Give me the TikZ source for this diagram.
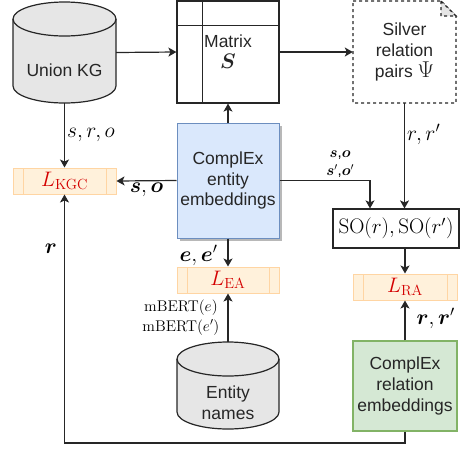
\RequirePackage{fix-cm}
\documentclass[tikz,border=0pt]{standalone}
\usepackage{amsmath}
\usepackage[no-math]{fontspec}
\setmainfont{Liberation Sans}
\usetikzlibrary{arrows.meta, shadows}

\definecolor{linec}{HTML}{262626}
\definecolor{cylfill}{HTML}{E6E6E6}
\definecolor{entfill}{HTML}{DAE8FC}
\definecolor{entline}{HTML}{6C8EBF}
\definecolor{relfill}{HTML}{D5E8D4}
\definecolor{relline}{HTML}{82B366}
\definecolor{lossfill}{HTML}{FFF1DB}
\definecolor{lossline}{HTML}{FFD5A3}
\definecolor{lossred}{HTML}{D40000}

\tikzset{
  tx/.style={font=\fontsize{17.5}{20.8}\selectfont, align=center, text=linec},
  lbl/.style={font=\fontsize{21.5}{24}\selectfont, inner sep=2pt},
  sml/.style={font=\fontsize{15}{18}\selectfont, inner sep=1pt, align=center},
  blk/.style={draw=linec, line width=1.2pt},
  arr/.style={draw=linec, line width=1.2pt, -{Stealth[length=8pt, width=9pt, inset=2pt]}},
  cyl/.style={fill=cylfill, draw=linec, line width=1.2pt},
  shapebox/.style={minimum width=#1, inner sep=0pt},
  losst/.style={draw=lossline, fill=lossfill, line width=1pt, minimum width=103pt,
    minimum height=26pt, inner sep=0pt, text=lossred, font=\fontsize{21}{24}\selectfont,
    path picture={
      \draw[lossline, line width=1pt]
        ([xshift=10pt]path picture bounding box.north west) -- ([xshift=10pt]path picture bounding box.south west)
        ([xshift=-10pt]path picture bounding box.north east) -- ([xshift=-10pt]path picture bounding box.south east);
    }},
}
\newcommand{\largemath}[2]{{\fontsize{#1}{20.8}\selectfont$#2$}}

\begin{document}
\begin{tikzpicture}[x=1pt, y=-1pt]
    \useasboundingbox (0,0) rectangle (474,448);

    % cylinders and the note are drawn directly
    \filldraw[cyl] (13,19) -- (13,86) arc[start angle=180, end angle=0, x radius=51.5, y radius=17] --
                   (116,19) arc[start angle=0, end angle=-180, x radius=51.5, y radius=17] -- cycle;
    \draw[blk] (13,19) arc[start angle=180, end angle=0, x radius=51.5, y radius=17];
    \filldraw[cyl] (177,359) -- (177,412) arc[start angle=180, end angle=0, x radius=51, y radius=17] --
                   (279,359) arc[start angle=0, end angle=-180, x radius=51, y radius=17] -- cycle;
    \draw[blk] (177,359) arc[start angle=180, end angle=0, x radius=51, y radius=17];
    \draw[blk, dashed, fill=white] (353,1) -- (441,1) -- (456,16) -- (456,103) -- (353,103) -- cycle;
    \draw[blk, dashed, fill=black!10] (441,1) -- (441,16) -- (456,16) -- cycle;

    \node[shapebox=103pt, minimum height=101pt, label={[tx, yshift=-17.5pt]center:Union KG}] (ukg) at (64.5,52.5) {};
    \node[shapebox=102pt, minimum height=87pt, label={[tx, yshift=-17.5pt]center:Entity\\names}] (ens) at (228,385.5) {};
    \node[tx, shapebox=103pt, minimum height=102pt] (slv) at (404.5,52) {Silver\\relation\\pairs \largemath{23}{\Psi}};

    \node[tx, blk, shapebox=102pt, minimum height=102pt] (mtx) at (228,52) {Matrix\\\largemath{21}{\boldsymbol{S}}};
    \draw[blk] ([xshift=26pt]mtx.north west) -- ([xshift=26pt]mtx.south west)
               ([yshift=-25pt]mtx.north west) -- ([yshift=-25pt]mtx.north east);

    \node[tx, draw=entline, fill=entfill, line width=1pt, shapebox=102pt, minimum height=115pt,
          drop shadow={shadow xshift=3pt, shadow yshift=-3pt, fill=black!28, opacity=1}] (ent) at (228,180.5)
          {ComplEx\\entity\\embeddings};
    \node[tx, draw=relline, fill=relfill, line width=1.2pt, shapebox=104pt, minimum height=90pt] (rel) at (405,386)
          {ComplEx\\relation\\embeddings};
    \node[blk, font=\fontsize{21}{24}\selectfont, shapebox=126pt, minimum height=39pt] (so) at (396,228.5)
          {$\mathrm{SO}(r),\mathrm{SO}(r')$};

    \node[losst] (lkgc) at (64.5,181) {$L_{\mathrm{KGC}}$};
    \node[losst, minimum width=102pt] (lea) at (228,280) {$L_{\mathrm{EA}}$};
    \node[losst, minimum width=104pt] (lra) at (405,287) {$L_{\mathrm{RA}}$};

    \coordinate (bot) at (0,443);

    \draw[arr] (ukg.east) -- (mtx.west);
    \draw[arr] (mtx.east) -- (slv.west);
    \draw[arr] (slv.south) -- node[pos=0.3, right, lbl] {$r,r'$} (slv.south |- so.north);
    \draw[arr] (ent.north) -- (mtx.south);
    \draw[arr] (ent.west) -- node[midway, below, lbl] {$\boldsymbol{s},\boldsymbol{o}$} (lkgc.east);
    \draw[arr] (ukg.south) -- node[midway, right, lbl] {$s,r,o$} (lkgc.north);
    \draw[arr] (ent.east) -| node[pos=0.335, above=1pt, sml]
          {$\boldsymbol{s}$,$\boldsymbol{o}$\\$\boldsymbol{s}'$,$\boldsymbol{o}'$} ([xshift=-26pt]so.north);
    \draw[arr] (ent.south) -- node[pos=0.6, left=8pt, lbl] {$\boldsymbol{e},\boldsymbol{e}'$} (lea.north);
    \draw[arr] (ens.north) -- node[midway, left=7pt, sml, font=\fontsize{15.5}{20}\selectfont]
          {$\mathrm{mBERT}(e)$\\$\mathrm{mBERT}(e')$} (lea.south);
    \draw[arr] (lra.north |- so.south) -- (lra.north);
    \draw[arr] (rel.north) -- node[pos=0.56, right=9pt, lbl] {$\boldsymbol{r},\boldsymbol{r}'$} (lra.south);
    \draw[arr] (rel.south) -- (rel.south |- bot) -| node[pos=0.89, left=5pt, lbl] {$\boldsymbol{r}$} (lkgc.south);

\end{tikzpicture}
\end{document}
